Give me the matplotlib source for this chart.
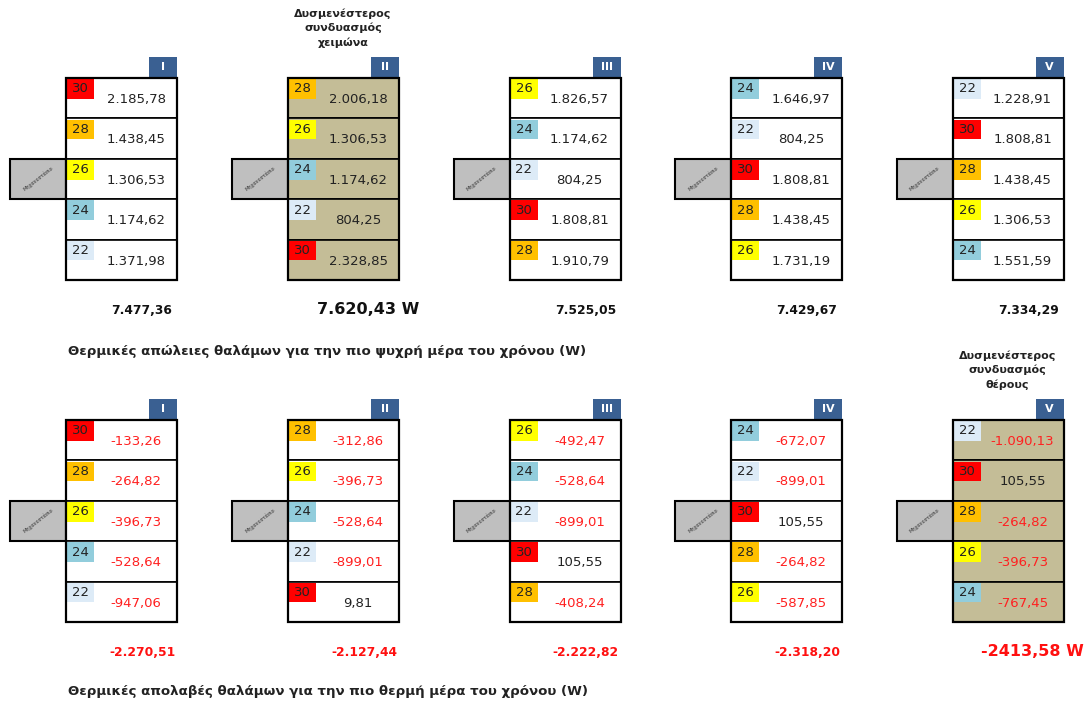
import matplotlib
matplotlib.use("Agg")
import matplotlib.pyplot as plt
from matplotlib.patches import Rectangle

# data
panels = ["I", "II", "III", "IV", "V"]
temps = [[30, 28, 26, 24, 22],
         [28, 26, 24, 22, 30],
         [26, 24, 22, 30, 28],
         [24, 22, 30, 28, 26],
         [22, 30, 28, 26, 24]]
winter_vals = [[2185.78, 1438.45, 1306.53, 1174.62, 1371.98],
               [2006.18, 1306.53, 1174.62, 804.25, 2328.85],
               [1826.57, 1174.62, 804.25, 1808.81, 1910.79],
               [1646.97, 804.25, 1808.81, 1438.45, 1731.19],
               [1228.91, 1808.81, 1438.45, 1306.53, 1551.59]]
winter_totals = [7477.36, 7620.43, 7525.05, 7429.67, 7334.29]
summer_vals = [[-133.26, -264.82, -396.73, -528.64, -947.06],
               [-312.86, -396.73, -528.64, -899.01, 9.81],
               [-492.47, -528.64, -899.01, 105.55, -408.24],
               [-672.07, -899.01, 105.55, -264.82, -587.85],
               [-1090.13, 105.55, -264.82, -396.73, -767.45]]
summer_totals = [-2270.51, -2127.44, -2222.82, -2318.20, -2413.58]
winter_worst = 1
summer_worst = 4

temp_colors = {30: "#FF0000", 28: "#FFC000", 26: "#FFFF00",
               24: "#92CDDC", 22: "#DDEBF7"}
tab_color = "#3A6092"
khaki = "#C4BD97"
grey = "#BFBFBF"

winter_title = "Θερμικές απώλειες θαλάμων για την πιο ψυχρή μέρα του χρόνου (W)"
summer_title = "Θερμικές απολαβές θαλάμων για την πιο θερμή μέρα του χρόνου (W)"
winter_note = "Δυσμενέστερος\nσυνδυασμός\nχειμώνα"
summer_note = "Δυσμενέστερος\nσυνδυασμός\nθέρους"
room_label = "Μηχανοστάσιο"


def fmt(v, sep=True):
    s = f"{v:,.2f}" if sep else f"{v:.2f}"
    return s.replace(",", "X").replace(".", ",").replace("X", ".")


fig = plt.figure(figsize=(10.89, 7.04), dpi=100)
ax = fig.add_axes([0, 0, 1, 1])
ax.set_xlim(0, 1089)
ax.set_ylim(704, 0)
ax.axis("off")

box_x = [66, 288, 509.5, 731, 952.5]
box_w = 111
row_h = 40.4


def draw_block(top, vals, totals, worst, note, summer):
    for p, name in enumerate(panels):
        x0 = box_x[p]
        fill = khaki if p == worst else "white"
        # header tab
        ax.add_patch(Rectangle((x0 + box_w - 28, top - 21), 28, 21,
                               facecolor=tab_color, edgecolor="none"))
        ax.text(x0 + box_w - 14, top - 10.5, name, color="white",
                fontsize=8, fontweight="bold", ha="center", va="center")
        # machine room box
        ax.add_patch(Rectangle((x0 - 56, top + 2 * row_h), 56, row_h,
                               facecolor=grey, edgecolor="black", lw=1.5))
        ax.text(x0 - 28, top + 2.5 * row_h, room_label, fontsize=3.6,
                rotation=38, ha="center", va="center", color="#333333")
        for r in range(5):
            y = top + r * row_h
            ax.add_patch(Rectangle((x0, y), box_w, row_h, facecolor=fill,
                                   edgecolor="black", lw=1.2))
            t = temps[p][r]
            ax.add_patch(Rectangle((x0 + 1.2, y + 1.2), 27, 19.5,
                                   facecolor=temp_colors[t], edgecolor="none"))
            ax.text(x0 + 14.5, y + 11, str(t), fontsize=9.5,
                    ha="center", va="center", color="#222222")
            v = vals[p][r]
            col = "#FF2020" if (summer and v < 0) else "#222222"
            ax.text(x0 + 70, y + 21.5, fmt(v), fontsize=9.5,
                    ha="center", va="center", color=col)
        ax.add_patch(Rectangle((x0, top), box_w, 5 * row_h, facecolor="none",
                               edgecolor="black", lw=1.6))
        # total
        tcol = "#FF1010" if summer else "#111111"
        ty = top + 5 * row_h + 30
        if p == worst:
            ax.text(x0 + 80, ty, fmt(totals[p], sep=not summer) + " W",
                    fontsize=11.5, fontweight="bold", ha="center",
                    va="center", color=tcol)
            ax.text(x0 + 55, top - 50, note, fontsize=8, fontweight="bold",
                    ha="center", va="center", linespacing=1.45,
                    color="#222222")
        else:
            ax.text(x0 + 76, ty, fmt(totals[p]), fontsize=8.8,
                    fontweight="bold", ha="center", va="center", color=tcol)


draw_block(78, winter_vals, winter_totals, winter_worst, winter_note, False)
draw_block(420, summer_vals, summer_totals, summer_worst, summer_note, True)

ax.text(68, 351, winter_title, fontsize=9.6, fontweight="bold",
        ha="left", va="center", color="#222222")
ax.text(68, 691, summer_title, fontsize=9.6, fontweight="bold",
        ha="left", va="center", color="#222222")

fig.savefig("out.png", dpi=100)
